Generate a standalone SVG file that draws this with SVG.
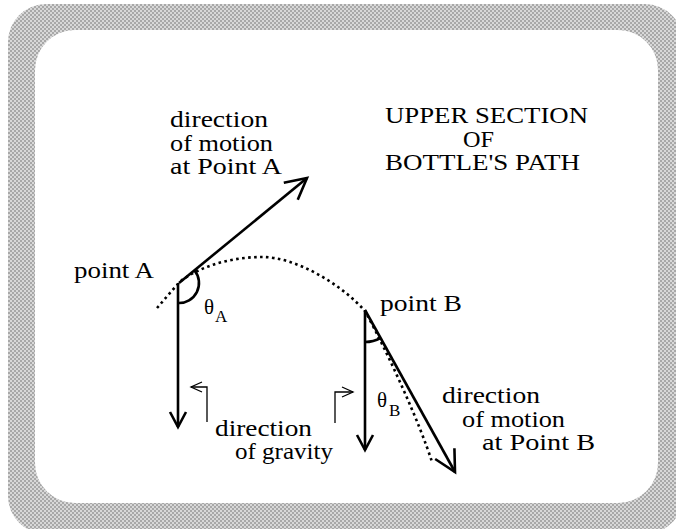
<svg xmlns="http://www.w3.org/2000/svg" width="676" height="529" viewBox="0 0 676 529">
<defs>
<pattern id="dots" width="4" height="4" patternUnits="userSpaceOnUse">
<rect width="4" height="4" fill="#d8d8d8"/>
<rect x="0" y="0" width="2" height="2" fill="#a8a8a8"/>
<rect x="2" y="2" width="2" height="2" fill="#a8a8a8"/>
</pattern>
<marker id="big" markerWidth="26" markerHeight="26" refX="21" refY="11" orient="auto" markerUnits="userSpaceOnUse" overflow="visible">
<path d="M0,0 L21,11 L0,22" fill="none" stroke="#000" stroke-width="2.6"/>
</marker>
<marker id="small" markerWidth="20" markerHeight="20" refX="15" refY="8" orient="auto" markerUnits="userSpaceOnUse" overflow="visible">
<path d="M0,0 L15,8 L0,16" fill="none" stroke="#000" stroke-width="2.6"/>
</marker>
<marker id="thin" markerWidth="14" markerHeight="14" refX="11" refY="5" orient="auto" markerUnits="userSpaceOnUse" overflow="visible">
<path d="M0,0 L11,5 L0,10" fill="none" stroke="#000" stroke-width="1.3"/>
</marker>
</defs>
<style>
text{font-family:"Liberation Serif","DejaVu Serif",serif;font-size:23px;fill:#000}
.sub{font-size:17px}
.th{font-size:21px}
.arrow{fill:none;stroke:#000;stroke-width:2.6}
.arc{fill:none;stroke:#000;stroke-width:2.6}
.path{fill:none;stroke:#000;stroke-width:2.6;stroke-dasharray:2.6 3.4}
.brk{fill:none;stroke:#000;stroke-width:1.3}
</style>
<g id="frame">
<rect x="8" y="4" width="675" height="530" rx="38" fill="url(#dots)"/>
<rect x="35" y="30" width="623" height="473" rx="40" fill="#fff"/>
</g>
<g id="connectors">
<path id="trajectory" class="path" d="M157,308 C165,299 172,290 182,280 C205,264 235,257 262,257 C295,257 340,283 365,311 C389,355 420,424 432,462"/>
<line id="motionA" class="arrow" x1="179" y1="283" x2="307" y2="178" marker-end="url(#big)"/>
<line id="gravityA" class="arrow" x1="178" y1="283" x2="178" y2="427" marker-end="url(#small)"/>
<path id="angleA" class="arc" d="M178,303 A20,20 0 0 0 194.5,270.4"/>
<line id="motionB" class="arrow" x1="365" y1="310" x2="455" y2="472" marker-end="url(#big)"/>
<line id="gravityB" class="arrow" x1="365" y1="310" x2="365" y2="450" marker-end="url(#small)"/>
<path id="angleB" class="arc" d="M365,342 A32,32 0 0 0 380.6,338"/>
<path id="bracketL" class="brk" d="M207,422 L207,387 L191,387" marker-end="url(#thin)"/>
<path id="bracketR" class="brk" d="M335,423 L335,392 L353,392" marker-end="url(#thin)"/>
</g>
<g id="label-motionA">
<text x="170" y="127" textLength="98" lengthAdjust="spacingAndGlyphs">direction</text>
<text x="170" y="151" textLength="103" lengthAdjust="spacingAndGlyphs">of motion</text>
<text x="170" y="174" textLength="112" lengthAdjust="spacingAndGlyphs">at Point A</text>
</g>
<g id="label-title">
<text x="385" y="123" textLength="203" lengthAdjust="spacingAndGlyphs">UPPER SECTION</text>
<text x="463" y="147" textLength="31" lengthAdjust="spacingAndGlyphs">OF</text>
<text x="385" y="170" textLength="195" lengthAdjust="spacingAndGlyphs">BOTTLE'S PATH</text>
</g>
<g id="pointA">
<text x="74" y="278" textLength="80" lengthAdjust="spacingAndGlyphs">point A</text>
</g>
<g id="thetaA">
<text class="th" x="204" y="314">θ</text>
<text class="sub" x="215" y="322">A</text>
</g>
<g id="pointB">
<text x="380" y="311" textLength="82" lengthAdjust="spacingAndGlyphs">point B</text>
</g>
<g id="thetaB">
<text class="th" x="377" y="407">θ</text>
<text class="sub" x="389" y="416">B</text>
</g>
<g id="label-gravity">
<text x="215" y="436" textLength="97" lengthAdjust="spacingAndGlyphs">direction</text>
<text x="235" y="459" textLength="98" lengthAdjust="spacingAndGlyphs">of gravity</text>
</g>
<g id="label-motionB">
<text x="442" y="403" textLength="98" lengthAdjust="spacingAndGlyphs">direction</text>
<text x="462" y="427" textLength="103" lengthAdjust="spacingAndGlyphs">of motion</text>
<text x="482" y="450" textLength="113" lengthAdjust="spacingAndGlyphs">at Point B</text>
</g>
</svg>
